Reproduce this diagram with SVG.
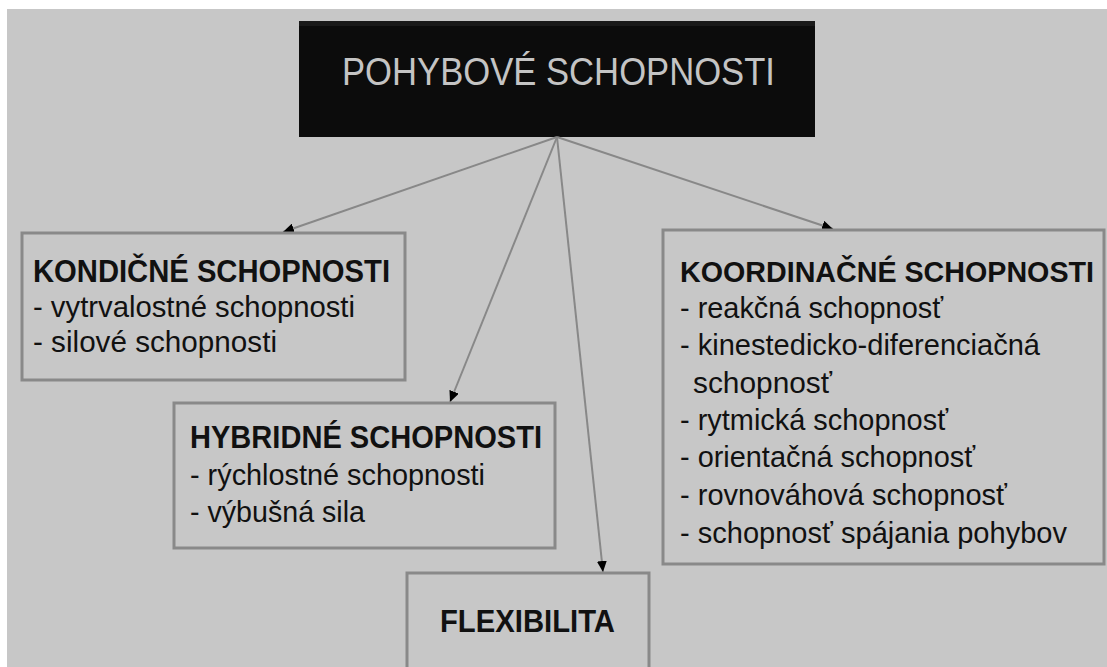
<svg xmlns="http://www.w3.org/2000/svg" width="1107" height="667" viewBox="0 0 1107 667">
<defs>
<style>
.box{fill:#c7c7c7;stroke:#898989;stroke-width:3}
.t{font-family:"Liberation Sans",Arial,sans-serif;font-size:30px;fill:#111}
.b{font-weight:bold;font-size:32px}
.conn{stroke:#888;stroke-width:2;fill:none}
</style>
<marker id="arr" markerUnits="userSpaceOnUse" markerWidth="12" markerHeight="10" refX="11" refY="5" orient="auto">
<path d="M0,0 L11,5 L0,10 z" fill="#000"/>
</marker>
</defs>
<rect x="0" y="0" width="1107" height="667" fill="#ffffff"/>
<rect x="7" y="9" width="1100" height="658" fill="#c7c7c7"/>

<g id="title">
<rect x="299" y="21" width="516" height="116" fill="#0c0c0c"/>
<rect x="299" y="21" width="516" height="5" fill="#1a1a1a"/>
<text x="342" y="85" font-family="Liberation Sans,Arial,sans-serif" font-size="39" fill="#c4c4c4" textLength="433" lengthAdjust="spacingAndGlyphs">POHYBOVÉ SCHOPNOSTI</text>
</g>

<g id="connectors">
<line class="conn" x1="557" y1="137" x2="283" y2="232" marker-end="url(#arr)"/>
<line class="conn" x1="557" y1="137" x2="450" y2="402" marker-end="url(#arr)"/>
<line class="conn" x1="557" y1="137" x2="603" y2="572" marker-end="url(#arr)"/>
<line class="conn" x1="557" y1="137" x2="833" y2="229" marker-end="url(#arr)"/>
</g>

<g id="kondicne">
<rect class="box" x="22" y="233" width="383" height="147"/>
<text class="t b" x="33" y="282" textLength="357" lengthAdjust="spacingAndGlyphs">KONDIČNÉ SCHOPNOSTI</text>
<text class="t" x="33" y="317" textLength="322" lengthAdjust="spacingAndGlyphs">- vytrvalostné schopnosti</text>
<text class="t" x="33" y="352" textLength="244" lengthAdjust="spacingAndGlyphs">- silové schopnosti</text>
</g>

<g id="hybridne">
<rect class="box" x="174" y="403" width="381" height="145"/>
<text class="t b" x="190" y="448" textLength="352" lengthAdjust="spacingAndGlyphs">HYBRIDNÉ SCHOPNOSTI</text>
<text class="t" x="190" y="485" textLength="295" lengthAdjust="spacingAndGlyphs">- rýchlostné schopnosti</text>
<text class="t" x="190" y="522" textLength="175" lengthAdjust="spacingAndGlyphs">- výbušná sila</text>
</g>

<g id="flexibilita">
<rect class="box" x="407" y="573" width="242" height="100"/>
<text class="t b" x="440" y="632" textLength="175" lengthAdjust="spacingAndGlyphs">FLEXIBILITA</text>
</g>

<g id="koordinacne">
<rect class="box" x="663" y="230" width="441" height="334"/>
<text class="t b" x="680" y="282" style="font-size:29px" textLength="414" lengthAdjust="spacingAndGlyphs">KOORDINAČNÉ SCHOPNOSTI</text>
<text class="t" x="680" y="318" textLength="263" lengthAdjust="spacingAndGlyphs">- reakčná schopnosť</text>
<text class="t" x="680" y="355" textLength="360" lengthAdjust="spacingAndGlyphs">- kinestedicko-diferenciačná</text>
<text class="t" x="693" y="393" textLength="139" lengthAdjust="spacingAndGlyphs">schopnosť</text>
<text class="t" x="680" y="430" textLength="268" lengthAdjust="spacingAndGlyphs">- rytmická schopnosť</text>
<text class="t" x="680" y="467" textLength="295" lengthAdjust="spacingAndGlyphs">- orientačná schopnosť</text>
<text class="t" x="680" y="505" textLength="327" lengthAdjust="spacingAndGlyphs">- rovnováhová schopnosť</text>
<text class="t" x="680" y="543" textLength="387" lengthAdjust="spacingAndGlyphs">- schopnosť spájania pohybov</text>
</g>
</svg>
